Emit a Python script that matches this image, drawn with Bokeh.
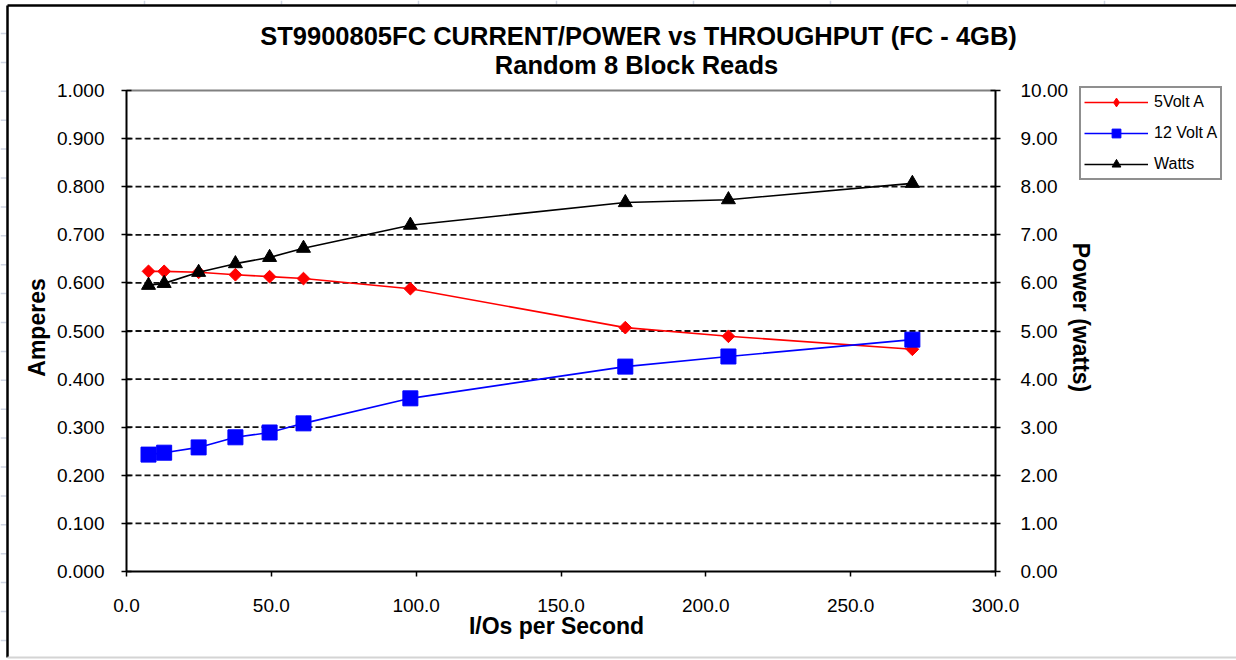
from bokeh.plotting import figure
from bokeh.models import (Range1d, LinearAxis, FixedTicker, NumeralTickFormatter,
                          Legend, LegendItem, Label, ColumnDataSource)
from bokeh.embed import file_html
from bokeh.resources import INLINE
import math

# ---- data ----
iops = [7.6, 13.0, 24.9, 37.6, 49.4, 61.1, 98.0, 172.2, 207.8, 271.3]
volt5_amps = [0.624, 0.624, 0.622, 0.617, 0.613, 0.609, 0.588, 0.507, 0.489, 0.462]
volt12_amps = [0.243, 0.247, 0.258, 0.279, 0.289, 0.308, 0.360, 0.426, 0.447, 0.482]
watts = [5.95, 5.99, 6.22, 6.40, 6.53, 6.72, 7.20, 7.67, 7.73, 8.07]

amp_ticks = [0.0, 0.1, 0.2, 0.3, 0.4, 0.5, 0.6, 0.7, 0.8, 0.9, 1.0]
watt_ticks = [0, 1, 2, 3, 4, 5, 6, 7, 8, 9, 10]
x_ticks = [0, 50, 100, 150, 200, 250, 300]

series_names = ["5Volt A", "12 Volt A", "Watts"]
title1 = "ST9900805FC CURRENT/POWER vs THROUGHPUT (FC - 4GB)"
title2 = "Random 8 Block Reads"
x_label = "I/Os per Second"
y_label = "Amperes"
y2_label = "Power (watts)"

FONT = "Liberation Sans"
W, H = 1236, 660

# ---- plot-area geometry (pixels of the page) ----
PX_LEFT, PX_RIGHT, PX_TOP, PX_BOTTOM = 126, 995, 90, 571
X_MIN, X_MAX = x_ticks[0], x_ticks[-1]
Y_MIN, Y_MAX = amp_ticks[0], amp_ticks[-1]
W_MIN, W_MAX = watt_ticks[0], watt_ticks[-1]
sx = (PX_RIGHT - PX_LEFT) / (X_MAX - X_MIN)
sy = (PX_BOTTOM - PX_TOP) / (Y_MAX - Y_MIN)


def px2x(px):
    return X_MIN + (px - PX_LEFT) / sx


def py2y(py):
    return Y_MIN + (PX_BOTTOM - py) / sy


ratio = (W_MAX - W_MIN) / (Y_MAX - Y_MIN)

# the frame covers the whole canvas; axes are pinned at the plot-area edges
p = figure(width=W, height=H, output_backend="svg", toolbar_location=None,
           x_range=Range1d(px2x(0), px2x(W)), y_range=Range1d(py2y(H), py2y(0)),
           min_border=0, min_border_left=0, min_border_right=0,
           min_border_top=0, min_border_bottom=0)
p.title.visible = False
p.background_fill_color = "white"
p.border_fill_color = "white"
p.outline_line_color = None
p.extra_y_ranges = {"w": Range1d(py2y(H) * ratio, py2y(0) * ratio)}
p.xgrid.visible = False
p.ygrid.visible = False


def style_axis(ax):
    ax.axis_line_color = "black"
    ax.axis_line_width = 2
    ax.major_tick_line_color = "black"
    ax.major_tick_line_width = 1.5
    ax.minor_tick_line_color = None
    ax.major_label_text_font = FONT
    ax.major_label_text_font_size = "19px"
    ax.major_label_text_color = "black"


xa = p.xaxis[0]
style_axis(xa)
xa.fixed_location = Y_MIN
xa.bounds = (X_MIN, X_MAX)
xa.ticker = FixedTicker(ticks=x_ticks)
xa.formatter = NumeralTickFormatter(format="0.0")
xa.major_tick_in = 0
xa.major_tick_out = 5
xa.major_label_standoff = 22

ya = p.yaxis[0]
style_axis(ya)
ya.fixed_location = X_MIN
ya.bounds = (Y_MIN, Y_MAX)
ya.ticker = FixedTicker(ticks=amp_ticks)
ya.formatter = NumeralTickFormatter(format="0.000")
ya.major_tick_in = 5
ya.major_tick_out = 5
ya.major_label_standoff = 17

ra = LinearAxis(y_range_name="w", fixed_location=X_MAX, bounds=(W_MIN, W_MAX))
style_axis(ra)
ra.ticker = FixedTicker(ticks=watt_ticks)
ra.formatter = NumeralTickFormatter(format="0.00")
ra.major_tick_in = 5
ra.major_tick_out = 5
ra.major_label_standoff = 20
p.add_layout(ra, "right")

# spreadsheet cells behind the embedded chart (faint grid)
col_px = [144, 281, 418, 556, 693, 830, 967, 1104]
p.segment(x0=[px2x(c) for c in col_px], x1=[px2x(c) for c in col_px],
          y0=[py2y(0)] * len(col_px), y1=[py2y(4)] * len(col_px),
          line_color="#cfd5e3", line_width=1.5)
row_px = [33 + 28.9 * i for i in range(22)]
p.segment(x0=[px2x(0)] * len(row_px), x1=[px2x(6)] * len(row_px),
          y0=[py2y(r) for r in row_px], y1=[py2y(r) for r in row_px],
          line_color="#cfd5e3", line_width=1.5)

# chart-area border
p.segment(x0=[px2x(7)], x1=[px2x(W)], y0=[py2y(5)], y1=[py2y(5)],
          line_color="black", line_width=2.5)
p.segment(x0=[px2x(7)], x1=[px2x(7)], y0=[py2y(5)], y1=[py2y(657)],
          line_color="black", line_width=2.5)
p.segment(x0=[px2x(7)], x1=[px2x(W)], y0=[py2y(657)], y1=[py2y(657)],
          line_color="#d4d4d4", line_width=2)

# horizontal dashed gridlines restricted to the plot area
grid_y = amp_ticks[1:-1]
p.segment(x0=[X_MIN] * len(grid_y), x1=[X_MAX] * len(grid_y), y0=grid_y, y1=grid_y,
          line_color="#111111", line_width=1.8, line_dash="6 3")
# top edge of plot area
p.segment(x0=[X_MIN], x1=[X_MAX], y0=[Y_MAX], y1=[Y_MAX],
          line_color="#808080", line_width=2)

# ---- series ----
src = ColumnDataSource(dict(x=iops, a5=volt5_amps, a12=volt12_amps, w=watts))
l1 = p.line("x", "a5", source=src, line_color="#ff0000", line_width=1.6)
# diamond swatch (used by the legend), covered by the wider rotated squares
k1 = p.scatter("x", "a5", source=src, marker="diamond", size=11,
               fill_color="#ff0000", line_color="#ff0000")
m1 = p.scatter("x", "a5", source=src, marker="square", angle=math.pi / 4, size=9,
               fill_color="#ff0000", line_color="#ff0000")
l2 = p.line("x", "a12", source=src, line_color="#0000ff", line_width=1.6)
m2 = p.scatter("x", "a12", source=src, marker="square", size=15,
               fill_color="#0000ff", line_color="#0000ff")
l3 = p.line("x", "w", source=src, line_color="black", line_width=1.6,
            y_range_name="w")
m3 = p.scatter("x", "w", source=src, marker="triangle", size=14,
               fill_color="black", line_color="black", y_range_name="w")

legend = Legend(items=[
    LegendItem(label=series_names[0], renderers=[l1, k1]),
    LegendItem(label=series_names[1], renderers=[l2, m2]),
    LegendItem(label=series_names[2], renderers=[l3, m3]),
], location=(1079, H - 180))
legend.label_text_font = FONT
legend.label_text_font_size = "16px"
legend.label_text_color = "black"
legend.glyph_width = 64
legend.glyph_height = 22
legend.label_height = 22
legend.spacing = 9
legend.padding = 3
legend.margin = 0
legend.label_standoff = 6
legend.border_line_color = "#202020"
legend.border_line_width = 2
legend.background_fill_color = "white"
legend.background_fill_alpha = 1
p.add_layout(legend, "center")


# ---- titles and axis titles ----
def add_text(text, px, py, size, angle=0.0):
    p.add_layout(Label(x=px2x(px), y=py2y(py), text=text, angle=angle,
                       text_align="center", text_baseline="middle",
                       text_font=FONT, text_font_size=size,
                       text_font_style="bold", text_color="black"))


add_text(title1, 638, 35, "25.5px")
add_text(title2, 636, 64, "25.5px")
add_text(x_label, 556, 625, "23px")
add_text(y_label, 36, 327, "23px", angle=math.pi / 2)
add_text(y2_label, 1080, 317, "23px", angle=-math.pi / 2)

open("out.html", "w").write(file_html(p, INLINE))
